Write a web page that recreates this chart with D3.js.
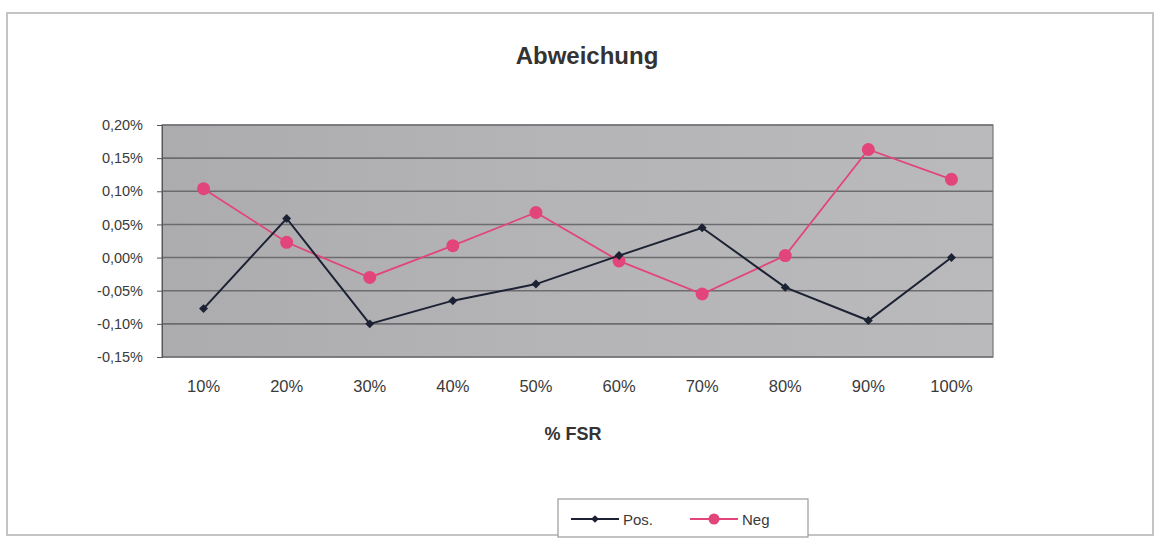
<!DOCTYPE html>
<html>
<head>
<meta charset="utf-8">
<script src="https://cdn.jsdelivr.net/npm/d3@7"></script>
<style>
  html, body { margin: 0; padding: 0; background: #fff; }
  svg { display: block; font-family: "Liberation Sans", Arial, sans-serif; }
</style>
</head>
<body>
<svg id="chart" width="1160" height="540"></svg>
<script>
// ---- data ----
const categories = ["10%", "20%", "30%", "40%", "50%", "60%", "70%", "80%", "90%", "100%"];
const posValues = [-0.077, 0.059, -0.100, -0.065, -0.040, 0.003, 0.045, -0.045, -0.095, 0.000];
const negValues = [0.104, 0.023, -0.030, 0.018, 0.068, -0.005, -0.055, 0.003, 0.163, 0.118];
const yTicks = [-0.15, -0.10, -0.05, 0.00, 0.05, 0.10, 0.15, 0.20];
const seriesNames = ["Pos.", "Neg"];

// ---- layout ----
const svg = d3.select("#chart");
const plot = { left: 162, right: 993, top: 125, bottom: 357 };

// outer frame
svg.append("rect").attr("x", 7).attr("y", 13).attr("width", 1146).attr("height", 522)
  .attr("fill", "#fff").attr("stroke", "#c4c4c4").attr("stroke-width", 2);

const x = d3.scaleBand().domain(categories).range([plot.left, plot.right]).paddingInner(0).paddingOuter(0);
const y = d3.scaleLinear().domain([-0.15, 0.20]).range([plot.bottom, plot.top]);

// plot background gradient
const defs = svg.append("defs");
const grad = defs.append("linearGradient").attr("id", "bg").attr("x1", "0").attr("x2", "1").attr("y1", "0").attr("y2", "0");
grad.append("stop").attr("offset", "0").attr("stop-color", "#acacae");
grad.append("stop").attr("offset", "0.5").attr("stop-color", "#b5b5b7");
grad.append("stop").attr("offset", "1").attr("stop-color", "#bababc");

svg.append("rect").attr("x", plot.left).attr("y", plot.top)
  .attr("width", plot.right - plot.left).attr("height", plot.bottom - plot.top)
  .attr("fill", "url(#bg)");

// gridlines
svg.append("g").selectAll("line").data(yTicks).join("line")
  .attr("x1", plot.left).attr("x2", plot.right)
  .attr("y1", d => y(d)).attr("y2", d => y(d))
  .attr("stroke", "#6c6c70").attr("stroke-width", 1.6);

// plot border
svg.append("rect").attr("x", plot.left).attr("y", plot.top)
  .attr("width", plot.right - plot.left).attr("height", plot.bottom - plot.top)
  .attr("fill", "none").attr("stroke", "#77777a").attr("stroke-width", 1.2);

// y axis
const fmt = d => {
  const s = Math.abs(d).toFixed(2).replace(".", ",") + "%";
  return (d < -1e-9 ? "-" : "") + s;
};
const yAxis = d3.axisLeft(y).tickValues(yTicks).tickFormat(fmt).tickSize(5).tickPadding(14);
const gy = svg.append("g").attr("transform", `translate(${plot.left},0)`).call(yAxis);
gy.select(".domain").attr("stroke", "#555");
gy.selectAll(".tick line").attr("stroke", "#555");
gy.selectAll("text").attr("fill", "#3a3a3a").attr("font-size", 14.5);

// x axis
const xAxis = d3.axisBottom(x).tickSize(0).tickPadding(23);
const gx = svg.append("g").attr("transform", `translate(0,${plot.bottom})`).call(xAxis);
gx.select(".domain").remove();
gx.selectAll("text").attr("fill", "#3a3a3a").attr("font-size", 16.5);

// titles
svg.append("text").attr("x", 587).attr("y", 64).attr("text-anchor", "middle")
  .attr("font-size", 24).attr("font-weight", "bold").attr("fill", "#333").text("Abweichung");
svg.append("text").attr("x", 573).attr("y", 440).attr("text-anchor", "middle")
  .attr("font-size", 18).attr("font-weight", "bold").attr("fill", "#333").text("% FSR");

// series
const cx = c => x(c) + x.bandwidth() / 2;
const line = d3.line().x((d, i) => cx(categories[i])).y(d => y(d));

const negColor = "#e2457a";
const posColor = "#1c2233";

svg.append("path").datum(negValues).attr("d", line)
  .attr("fill", "none").attr("stroke", negColor).attr("stroke-width", 1.8);
svg.append("g").selectAll("circle").data(negValues).join("circle")
  .attr("cx", (d, i) => cx(categories[i])).attr("cy", d => y(d)).attr("r", 6.5)
  .attr("fill", negColor);

svg.append("path").datum(posValues).attr("d", line)
  .attr("fill", "none").attr("stroke", posColor).attr("stroke-width", 2);
svg.append("g").selectAll("path").data(posValues).join("path")
  .attr("transform", (d, i) => `translate(${cx(categories[i])},${y(d)}) rotate(45)`)
  .attr("d", d3.symbol().type(d3.symbolSquare).size(40))
  .attr("fill", posColor);

// legend
const lg = svg.append("g");
lg.append("rect").attr("x", 558).attr("y", 499).attr("width", 250).attr("height", 38)
  .attr("fill", "#fff").attr("stroke", "#9a9a9a").attr("stroke-width", 1.2);
const items = [
  { name: seriesNames[0], color: posColor, x0: 571, sym: "d" },
  { name: seriesNames[1], color: negColor, x0: 690, sym: "c" }
];
items.forEach(it => {
  lg.append("line").attr("x1", it.x0).attr("x2", it.x0 + 48).attr("y1", 519).attr("y2", 519)
    .attr("stroke", it.color).attr("stroke-width", 2);
  if (it.sym === "d") {
    lg.append("path").attr("transform", `translate(${it.x0 + 24},519) rotate(45)`)
      .attr("d", d3.symbol().type(d3.symbolSquare).size(30)).attr("fill", it.color);
  } else {
    lg.append("circle").attr("cx", it.x0 + 24).attr("cy", 519).attr("r", 5.5).attr("fill", it.color);
  }
  lg.append("text").attr("x", it.x0 + 52).attr("y", 525).attr("font-size", 15)
    .attr("fill", "#3a3a3a").text(it.name);
});
</script>
</body>
</html>
